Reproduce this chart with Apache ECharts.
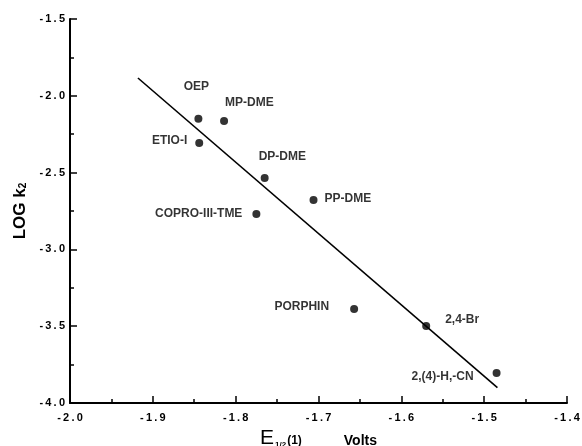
<!DOCTYPE html>
<html>
<head>
<meta charset="utf-8">
<script src="https://cdn.jsdelivr.net/npm/echarts@6/dist/echarts.min.js"></script>
<style>
  html, body { margin: 0; padding: 0; background: #fff; }
  #main { width: 582px; height: 446px; }
</style>
</head>
<body>
<div id="main"></div>
<script>
// porphyrin data
var names = ['OEP', 'MP-DME', 'ETIO-I', 'DP-DME', 'PP-DME', 'COPRO-III-TME', 'PORPHIN', '2,4-Br', '2,(4)-H,-CN'];
var potential = [-1.845, -1.814, -1.844, -1.765, -1.706, -1.775, -1.657, -1.570, -1.485];
var logK2 = [-2.15, -2.164, -2.307, -2.535, -2.678, -2.77, -3.388, -3.499, -3.805];

// least squares line, end points
var fitX = [-1.918, -1.484];
var fitY = [-1.884, -3.90];

var spaced = function (v) {
    return v.toFixed(1).split('').join('\u2009');
};

// where each name sits next to its dot
var labelPlace = {
    'OEP': { align: 'center', offset: [-2, -32] },
    'MP-DME': { align: 'left', offset: [1, -18] },
    'ETIO-I': { align: 'right', offset: [-12, -2] },
    'DP-DME': { align: 'left', offset: [-6, -21] },
    'PP-DME': { align: 'left', offset: [11, -1] },
    'COPRO-III-TME': { align: 'right', offset: [-14, 0] },
    'PORPHIN': { align: 'right', offset: [-25, -2] },
    '2,4-Br': { align: 'left', offset: [19, -6] },
    '2,(4)-H,-CN': { align: 'right', offset: [-23, 4] }
};

var points = [];
for (var i = 0; i < names.length; i++) {
    var p = labelPlace[names[i]];
    points.push({
        name: names[i],
        value: [potential[i], logK2[i]],
        label: { align: p.align, offset: p.offset }
    });
}
var line = [];
for (var j = 0; j < fitX.length; j++) {
    line.push([fitX[j], fitY[j]]);
}

var font = '"Liberation Sans", Arial, sans-serif';
var myChart = echarts.init(document.getElementById('main'));
myChart.setOption({
    animation: false,
    backgroundColor: '#fff',
    textStyle: { fontFamily: font },
    grid: { left: 70, right: 15, top: 19, bottom: 43, containLabel: false, outerBoundsMode: 'none' },
    xAxis: {
        type: 'value',
        min: -2.0,
        max: -1.4,
        interval: 0.1,
        axisLine: { lineStyle: { color: '#000', width: 2 } },
        axisTick: { inside: true, length: 7, lineStyle: { color: '#000', width: 1.5 } },
        minorTick: { show: true, splitNumber: 2, length: 4, lineStyle: { color: '#000', width: 1.5 } },
        splitLine: { show: false },
        axisLabel: { color: '#000', fontWeight: 'bold', fontSize: 11, margin: 9, formatter: spaced },
        name: '{e|E}{sub|1/2}{p|(1)}{v|Volts}',
        nameLocation: 'middle',
        nameGap: 24,
        nameTextStyle: {
            rich: {
                e: { fontSize: 21, fontFamily: font, color: '#000' },
                sub: { fontSize: 8, fontFamily: font, fontWeight: 'bold', color: '#000', padding: [12, 1, 0, 1] },
                p: { fontSize: 12, fontFamily: font, fontWeight: 'bold', color: '#000', padding: [4, 0, 0, 0] },
                v: { fontSize: 14, fontFamily: font, fontWeight: 'bold', color: '#000', padding: [5, 0, 0, 42] }
            }
        }
    },
    yAxis: {
        type: 'value',
        min: -4.0,
        max: -1.5,
        interval: 0.5,
        axisLine: { show: true, lineStyle: { color: '#000', width: 2 } },
        axisTick: { show: true, inside: true, length: 7, lineStyle: { color: '#000', width: 1.5 } },
        minorTick: { show: true, splitNumber: 2, length: 4, lineStyle: { color: '#000', width: 1.5 } },
        splitLine: { show: false },
        axisLabel: { color: '#000', fontWeight: 'bold', fontSize: 11, margin: 5, formatter: spaced },
        name: 'LOG k{sub|2}',
        nameLocation: 'middle',
        nameRotate: 90,
        nameGap: 40,
        nameTextStyle: {
            fontSize: 17,
            fontWeight: 'bold',
            color: '#000',
            rich: {
                sub: { fontSize: 10, fontWeight: 'bold', fontFamily: font, color: '#000', padding: [7, 0, 0, 0] }
            }
        }
    },
    series: [
        {
            type: 'line',
            data: line,
            symbol: 'none',
            lineStyle: { color: '#000', width: 1.6 },
            z: 1
        },
        {
            type: 'scatter',
            data: points,
            symbol: 'circle',
            symbolSize: 8,
            itemStyle: { color: '#000' },
            label: {
                show: true,
                position: 'inside',
                verticalAlign: 'middle',
                formatter: '{b}',
                color: '#000',
                fontSize: 12,
                fontWeight: 'bold',
                fontFamily: font
            },
            z: 2
        }
    ]
});
</script>
</body>
</html>
